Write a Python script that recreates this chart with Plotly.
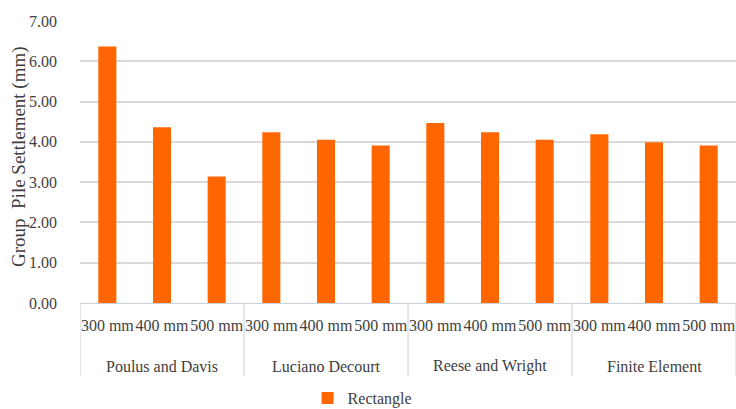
import plotly.graph_objects as go

methods = ["Poulus and Davis", "Luciano Decourt", "Reese and Wright", "Finite Element"]
diameters = ["300 mm", "400 mm", "500 mm"]
settlement = [6.37, 4.36, 3.14,
              4.24, 4.05, 3.91,
              4.47, 4.24, 4.05,
              4.19, 3.99, 3.91]
yticks = [0, 1, 2, 3, 4, 5, 6, 7]

n_d = len(diameters)
inner = [d for _ in methods for d in diameters]
xpos = list(range(len(inner)))

FONT = "Liberation Serif"
TXT = "#404040"
PLOT_L, PLOT_T, PLOT_B = 80, 21, 106
PLOT_W = 736 - PLOT_L
PLOT_H = 409 - PLOT_T - PLOT_B

fig = go.Figure()
fig.add_trace(go.Bar(
    x=xpos, y=settlement, name="Rectangle",
    marker=dict(color="#ff6600", line=dict(width=0)),
    showlegend=True,
))

# group labels and dividers placed on the data axis
for i, m in enumerate(methods):
    fig.add_annotation(x=i * n_d + (n_d - 1) / 2, xref="x",
                       y=-(366 - 303) / PLOT_H, yref="paper",
                       text=m, showarrow=False, yanchor="middle",
                       font=dict(family=FONT, size=16, color=TXT))
for i in range(len(methods) + 1):
    fig.add_shape(type="line", xref="x", yref="paper",
                  x0=i * n_d - 0.5, x1=i * n_d - 0.5,
                  y0=0, y1=-(376 - 303) / PLOT_H,
                  line=dict(color="#d0d0d0", width=1))

# y axis title
fig.add_annotation(x=(19 - PLOT_L) / PLOT_W, xref="paper", xanchor="center",
                   y=(303 - 157) / PLOT_H, yref="paper", yanchor="middle",
                   text="Group&nbsp; Pile Settlement (mm)", textangle=-90,
                   showarrow=False,
                   font=dict(family=FONT, size=19, color=TXT))

fig.update_layout(
    width=736, height=409,
    margin=dict(l=PLOT_L, r=0, t=PLOT_T, b=PLOT_B, autoexpand=False),
    paper_bgcolor="white", plot_bgcolor="white",
    font=dict(family=FONT, size=16, color=TXT),
    bargap=0.67,
    showlegend=True,
    legend=dict(orientation="h", xref="container", yref="paper",
                x=0.492, xanchor="center",
                y=-(398 - 303) / PLOT_H, yanchor="middle",
                font=dict(family=FONT, size=16, color=TXT),
                itemwidth=30),
    xaxis=dict(
        tickvals=xpos, ticktext=inner,
        range=[-0.5, len(inner) - 0.5],
        automargin=False,
        tickangle=0,
        showline=True, linecolor="#c9d1da", linewidth=1,
        tickfont=dict(family=FONT, size=16, color=TXT),
        ticks="", ticklabelstandoff=8, showgrid=False, zeroline=False,
    ),
    yaxis=dict(
        range=[0, 7], tickvals=yticks, tickformat=".2f",
        automargin=False,
        showgrid=True, gridcolor="#d9d9d9", gridwidth=1.5,
        zeroline=False, showline=False, ticks="",
        ticklabelstandoff=22,
        tickfont=dict(family=FONT, size=16, color=TXT),
    ),
)

fig.write_html("out.html")
